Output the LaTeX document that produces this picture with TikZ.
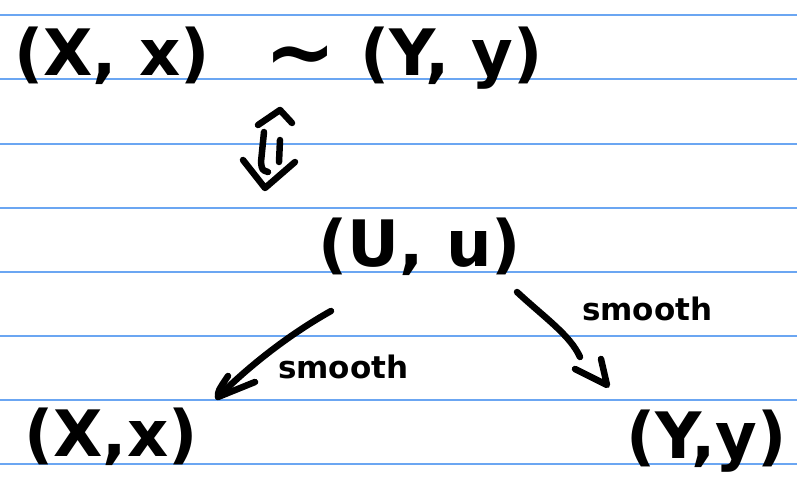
\documentclass[tikz,border=0pt]{standalone}
\usepackage{fontspec}
\setmainfont{DejaVu Sans}
\usetikzlibrary{calc}
\definecolor{paperblue}{rgb}{0.42,0.65,0.95}
\begin{document}
\begin{tikzpicture}[x=1pt,y=-1pt,
  ruling/.style={color=paperblue, line width=2pt},
  ink/.style={line width=6.5pt, line cap=round, line join=round, black},
  big/.style={font=\fontsize{64}{64}\selectfont\bfseries, inner sep=0pt, anchor=base west},
  small/.style={font=\fontsize{31}{31}\selectfont\bfseries, inner sep=0pt, anchor=base west}]
\useasboundingbox (0,0) rectangle (797,492);
\fill[white] (0,0) rectangle (797,492);
% ruled paper
\foreach \i in {0,...,7}
  \draw[ruling] (0,{15.5+64*\i}) -- (797,{15.5+64*\i});

% top statement
\node[big] (px) at (14,76) {(X, x)};
\node[big, font=\fontsize{86}{86}\selectfont\bfseries] (sim) at (264,82) {∼};
\node[big] (py) at (360,76) {(Y, y)};

% middle
\node[big] (pu) at (318,266) {(U, u)};

% bottom
\node[big] (bx) at (24,456) {(X,x)};
\node[big] (by) at (626,458) {(Y,y)};

% smooth labels
\node[small] (sl) at (278,378) {smooth};
\node[small] (sr) at (582,320) {smooth};

% equivalence arrow
\coordinate (iff) at (270,150);
\draw[ink] ($(iff)+(-12,-25)$) -- ($(iff)+(10,-40)$) -- ($(iff)+(22,-27)$);
\draw[ink] ($(iff)+(-6,-18)$) -- ($(iff)+(-9,12)$) .. controls ($(iff)+(-8,20)$) .. ($(iff)+(-2,22)$);
\draw[ink] ($(iff)+(10,-10)$) -- ($(iff)+(9,12)$);
\draw[ink] ($(iff)+(-27,10)$) -- ($(iff)+(-5,38)$) -- ($(iff)+(25,12)$);

% left arrow
\coordinate (l1) at (331,311);
\coordinate (l2) at (218,397);
\draw[ink] (l1) .. controls (290,334) and (250,365) .. (l2);
\draw[ink] ($(l2)+(10,-21)$) .. controls ($(l2)+(0,-6)$) .. (l2) -- ($(l2)+(37,-15)$);

% right arrow
\coordinate (r1) at (517,292);
\coordinate (r2) at (580,357);
\coordinate (rt) at (607,385);
\draw[ink] (r1) .. controls (545,318) and (570,335) .. (r2);
\draw[ink] ($(rt)+(-32,-16)$) -- (rt) -- ($(rt)+(-6,-26)$);
\end{tikzpicture}
\end{document}
